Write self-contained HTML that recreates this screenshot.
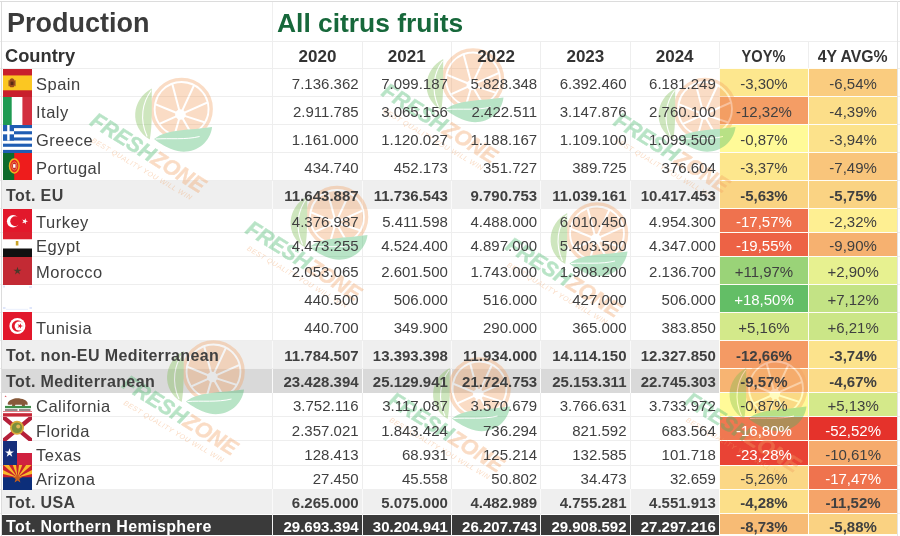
<!DOCTYPE html>
<html lang="en"><head><meta charset="utf-8"><title>Production - All citrus fruits</title>
<style>
html,body{margin:0;padding:0;background:#fff;}
body{width:900px;height:536px;overflow:hidden;position:relative;font-family:"Liberation Sans",sans-serif;color:#404040;}
#sheet{position:absolute;left:0;top:0;width:900px;height:536px;overflow:hidden;background:#fff;}
.hl,.vl,.bg,.c,.t,.flag{position:absolute;}
.hl{left:0;width:900px;height:1px;background:#eeeeee;}
.vl{width:1px;background:#eeeeee;}
.t{white-space:nowrap;line-height:20px;height:20px;font-size:15px;}
.num{text-align:right;}
.pct{text-align:center;}
.lab{font-size:16.5px;letter-spacing:.5px;}
.lab.b{font-size:16px;letter-spacing:.4px;}
.b{font-weight:bold;}
.w{color:#fff;}
.flag{left:3px;width:29px;overflow:hidden;}
.flag svg{display:block;width:100%;height:100%;}
#wm{position:absolute;left:0;top:0;width:900px;height:536px;pointer-events:none;}
</style></head><body><div id="sheet">

<div class="hl" style="top:1px;background:#dcdcdc"></div>
<div class="hl" style="top:41px"></div>
<div class="hl" style="top:68px"></div>
<div class="hl" style="top:96px"></div>
<div class="hl" style="top:124px"></div>
<div class="hl" style="top:152px"></div>
<div class="hl" style="top:180px"></div>
<div class="hl" style="top:208px"></div>
<div class="hl" style="top:232px"></div>
<div class="hl" style="top:256px"></div>
<div class="hl" style="top:284px"></div>
<div class="hl" style="top:312px"></div>
<div class="hl" style="top:340px"></div>
<div class="hl" style="top:368px"></div>
<div class="hl" style="top:392px"></div>
<div class="hl" style="top:416px"></div>
<div class="hl" style="top:440px"></div>
<div class="hl" style="top:465px"></div>
<div class="hl" style="top:489px"></div>
<div class="hl" style="top:513px"></div>
<div class="vl" style="left:1px;top:1px;height:535px;background:#dcdcdc"></div>
<div class="vl" style="left:272px;top:41px;height:495px"></div>
<div class="vl" style="left:362px;top:41px;height:495px"></div>
<div class="vl" style="left:451px;top:41px;height:495px"></div>
<div class="vl" style="left:540px;top:41px;height:495px"></div>
<div class="vl" style="left:630px;top:41px;height:495px"></div>
<div class="vl" style="left:719px;top:41px;height:495px"></div>
<div class="vl" style="left:808px;top:41px;height:495px"></div>
<div class="vl" style="left:272px;top:2px;height:39px;background:#efefef"></div>
<div class="vl" style="left:897px;top:1px;height:535px;background:#e4e4e4"></div>
<div class="bg" style="left:719px;top:68px;width:178px;height:468px;background:#fffdf6"></div>
<div class="bg" style="left:720px;top:69px;width:88px;height:27px;background:#fde78e"></div>
<div class="bg" style="left:809px;top:69px;width:88px;height:27px;background:#facc7f"></div>
<div class="bg" style="left:720px;top:97px;width:88px;height:27px;background:#f49d65"></div>
<div class="bg" style="left:809px;top:97px;width:88px;height:27px;background:#fcde89"></div>
<div class="bg" style="left:720px;top:125px;width:88px;height:27px;background:#fffa98"></div>
<div class="bg" style="left:809px;top:125px;width:88px;height:27px;background:#fce28b"></div>
<div class="bg" style="left:720px;top:153px;width:88px;height:27px;background:#fde78d"></div>
<div class="bg" style="left:809px;top:153px;width:88px;height:27px;background:#f9c57b"></div>
<div class="bg" style="left:2px;top:181px;width:717px;height:28px;background:#efefef"></div>
<div class="bg" style="left:272px;top:181px;width:1px;height:28px;background:#fafafa"></div>
<div class="bg" style="left:362px;top:181px;width:1px;height:28px;background:#fafafa"></div>
<div class="bg" style="left:451px;top:181px;width:1px;height:28px;background:#fafafa"></div>
<div class="bg" style="left:540px;top:181px;width:1px;height:28px;background:#fafafa"></div>
<div class="bg" style="left:630px;top:181px;width:1px;height:28px;background:#fafafa"></div>
<div class="bg" style="left:720px;top:181px;width:88px;height:27px;background:#fad483"></div>
<div class="bg" style="left:809px;top:181px;width:88px;height:27px;background:#fad383"></div>
<div class="bg" style="left:720px;top:209px;width:88px;height:23px;background:#ef724e"></div>
<div class="bg" style="left:809px;top:209px;width:88px;height:23px;background:#feef92"></div>
<div class="bg" style="left:720px;top:233px;width:88px;height:23px;background:#ed6245"></div>
<div class="bg" style="left:809px;top:233px;width:88px;height:23px;background:#f6b170"></div>
<div class="bg" style="left:720px;top:257px;width:88px;height:27px;background:#9ad378"></div>
<div class="bg" style="left:809px;top:257px;width:88px;height:27px;background:#e7f190"></div>
<div class="bg" style="left:720px;top:285px;width:88px;height:27px;background:#63be66"></div>
<div class="bg" style="left:809px;top:285px;width:88px;height:27px;background:#c3e385"></div>
<div class="bg" style="left:720px;top:313px;width:88px;height:27px;background:#d3e98a"></div>
<div class="bg" style="left:809px;top:313px;width:88px;height:27px;background:#cbe687"></div>
<div class="bg" style="left:2px;top:341px;width:717px;height:27px;background:#efefef"></div>
<div class="bg" style="left:272px;top:341px;width:1px;height:27px;background:#fafafa"></div>
<div class="bg" style="left:362px;top:341px;width:1px;height:27px;background:#fafafa"></div>
<div class="bg" style="left:451px;top:341px;width:1px;height:27px;background:#fafafa"></div>
<div class="bg" style="left:540px;top:341px;width:1px;height:27px;background:#fafafa"></div>
<div class="bg" style="left:630px;top:341px;width:1px;height:27px;background:#fafafa"></div>
<div class="bg" style="left:720px;top:341px;width:88px;height:27px;background:#f49a64"></div>
<div class="bg" style="left:809px;top:341px;width:88px;height:27px;background:#fce38c"></div>
<div class="bg" style="left:2px;top:369px;width:717px;height:24px;background:#d9d9d9"></div>
<div class="bg" style="left:272px;top:369px;width:1px;height:24px;background:#fafafa"></div>
<div class="bg" style="left:362px;top:369px;width:1px;height:24px;background:#fafafa"></div>
<div class="bg" style="left:451px;top:369px;width:1px;height:24px;background:#fafafa"></div>
<div class="bg" style="left:540px;top:369px;width:1px;height:24px;background:#fafafa"></div>
<div class="bg" style="left:630px;top:369px;width:1px;height:24px;background:#fafafa"></div>
<div class="bg" style="left:720px;top:369px;width:88px;height:23px;background:#f7b472"></div>
<div class="bg" style="left:809px;top:369px;width:88px;height:23px;background:#fbdc88"></div>
<div class="bg" style="left:720px;top:393px;width:88px;height:23px;background:#fffa98"></div>
<div class="bg" style="left:809px;top:393px;width:88px;height:23px;background:#d4e98a"></div>
<div class="bg" style="left:720px;top:417px;width:88px;height:23px;background:#ef7851"></div>
<div class="bg" style="left:809px;top:417px;width:88px;height:23px;background:#e5322b"></div>
<div class="bg" style="left:720px;top:441px;width:88px;height:24px;background:#e94335"></div>
<div class="bg" style="left:809px;top:441px;width:88px;height:24px;background:#f6ab6d"></div>
<div class="bg" style="left:720px;top:466px;width:88px;height:23px;background:#fbd785"></div>
<div class="bg" style="left:809px;top:466px;width:88px;height:23px;background:#ef734e"></div>
<div class="bg" style="left:2px;top:489px;width:717px;height:24px;background:#efefef"></div>
<div class="bg" style="left:272px;top:489px;width:1px;height:24px;background:#fafafa"></div>
<div class="bg" style="left:362px;top:489px;width:1px;height:24px;background:#fafafa"></div>
<div class="bg" style="left:451px;top:489px;width:1px;height:24px;background:#fafafa"></div>
<div class="bg" style="left:540px;top:489px;width:1px;height:24px;background:#fafafa"></div>
<div class="bg" style="left:630px;top:489px;width:1px;height:24px;background:#fafafa"></div>
<div class="bg" style="left:720px;top:490px;width:88px;height:23px;background:#fcdf89"></div>
<div class="bg" style="left:809px;top:490px;width:88px;height:23px;background:#f5a469"></div>
<div class="bg" style="left:2px;top:515px;width:717px;height:20px;background:#3a3a3a"></div>
<div class="bg" style="left:272px;top:515px;width:1px;height:20px;background:#f4f4f4"></div>
<div class="bg" style="left:362px;top:515px;width:1px;height:20px;background:#f4f4f4"></div>
<div class="bg" style="left:451px;top:515px;width:1px;height:20px;background:#f4f4f4"></div>
<div class="bg" style="left:540px;top:515px;width:1px;height:20px;background:#f4f4f4"></div>
<div class="bg" style="left:630px;top:515px;width:1px;height:20px;background:#f4f4f4"></div>
<div class="bg" style="left:720px;top:514px;width:88px;height:20px;background:#f7bb75"></div>
<div class="bg" style="left:809px;top:514px;width:88px;height:20px;background:#fad282"></div>
<div class="flag" style="top:69px;height:28px"><svg viewBox="0 0 29 28" preserveAspectRatio="none"><rect width="29" height="28" fill="#c8202c"/><rect y="6.44" width="29" height="14.84" fill="#fbc722"/><path d="M6.2 11.76 c.6-1.6 1.6-2.4 2.8-2.6 c1.200.2 2.200 1 2.800 2.600 c.8 1.600 .6 3.600-.2 5.200 l-1.200 1.400 l-3 0 l-1.200-1.400 c-.8-1.600-.8-3.600 0-5.200z" fill="#9a4a1c"/><rect x="7.6" y="12.6" width="2.9" height="3.4" fill="#5a2a14"/><rect x="5.2" y="11.2" width="1" height="6" fill="#b8862a"/><rect x="12" y="11.2" width="1" height="6" fill="#b8862a"/></svg></div>
<div class="flag" style="top:97px;height:28px"><svg viewBox="0 0 29 28" preserveAspectRatio="none"><rect width="29" height="28" fill="#fff"/><rect width="8.7" height="28" fill="#1f9a52"/><rect x="19.4" width="9.6" height="28" fill="#d2303f"/></svg></div>
<div class="flag" style="top:125px;height:28px"><svg viewBox="0 0 29 28" preserveAspectRatio="none"><rect width="29" height="28" fill="#fff"/><rect y="0.00" width="29" height="3.11" fill="#1f5db3"/><rect y="6.22" width="29" height="3.11" fill="#1f5db3"/><rect y="12.44" width="29" height="3.11" fill="#1f5db3"/><rect y="18.67" width="29" height="3.11" fill="#1f5db3"/><rect y="24.89" width="29" height="3.11" fill="#1f5db3"/><rect width="11" height="15.56" fill="#1f5db3"/><rect x="4.2" width="2.4" height="15.56" fill="#fff"/><rect y="6.22" width="11" height="3.11" fill="#fff"/></svg></div>
<div class="flag" style="top:153px;height:27px"><svg viewBox="0 0 29 27" preserveAspectRatio="none"><rect width="29" height="27" fill="#ee1c1c"/><rect width="11.2" height="27" fill="#0e6b2c"/><ellipse cx="11.3" cy="12.96" rx="4.8" ry="7" fill="#e8202a" stroke="#f2b01e" stroke-width="1.5"/><ellipse cx="11.3" cy="12.96" rx="2.6" ry="4" fill="#c8202c" stroke="#f2c84a" stroke-width=".6"/><rect x="10.1" y="11.16" width="2.4" height="3.6" fill="#fff"/></svg></div>
<div class="flag" style="top:209px;height:23px"><svg viewBox="0 0 29 23" preserveAspectRatio="none"><rect width="29" height="23" fill="#e2182b"/><circle cx="10.1" cy="12.3" r="6.2" fill="#fff"/><circle cx="12.3" cy="12.3" r="5" fill="#e2182b"/><polygon points="22.79,9.26 22.79,11.58 25.00,12.30 22.79,13.02 22.79,15.34 21.42,13.46 19.21,14.18 20.58,12.30 19.21,10.42 21.42,11.14" fill="#fff"/></svg></div>
<div class="flag" style="top:232px;height:25px"><svg viewBox="0 0 29 25" preserveAspectRatio="none"><rect width="29" height="25" fill="#fff"/><rect width="29" height="7.25" fill="#dc1f2e"/><rect y="16.5" width="29" height="8.5" fill="#111"/><rect x="12.8" y="9" width="2.6" height="4.5" fill="#c9a227"/></svg></div>
<div class="flag" style="top:257px;height:28px"><svg viewBox="0 0 29 28" preserveAspectRatio="none"><rect width="29" height="28" fill="#c32a34"/><polygon points="14.50,9.80 15.44,12.70 18.49,12.70 16.03,14.50 16.97,17.40 14.50,15.60 12.03,17.40 12.97,14.50 10.51,12.70 13.56,12.70" fill="#4a3a2a"/></svg></div>
<div class="flag" style="top:285px;height:27px"><svg viewBox="0 0 29 27" preserveAspectRatio="none"><rect width="29" height="27" fill="#fff"/><rect x="0" y="0.5" width="2" height="2" fill="#dfe6fb"/><rect x="26" y="1" width="3" height="2" fill="#e4eafc"/><rect x="0" y="22" width="2.5" height="2" fill="#dfe6fb"/><rect x="26.5" y="22" width="2.5" height="2" fill="#dfe6fb"/><rect x="3" y="23.8" width="22" height="1.2" fill="#eef2fd"/></svg></div>
<div class="flag" style="top:312px;height:28px"><svg viewBox="0 0 29 28" preserveAspectRatio="none"><rect width="29" height="28" fill="#e2182b"/><circle cx="14.4" cy="14" r="8" fill="#fff"/><circle cx="14.6" cy="14" r="5.8" fill="#e2182b"/><circle cx="16.2" cy="14" r="4.6" fill="#fff"/><polygon points="17.93,11.15 17.93,13.33 20.00,14.00 17.93,14.67 17.93,16.85 16.65,15.09 14.57,15.76 15.85,14.00 14.57,12.24 16.65,12.91" fill="#e2182b"/></svg></div>
<div class="flag" style="top:393px;height:24px"><svg viewBox="0 0 29 24" preserveAspectRatio="none"><rect width="29" height="24" fill="#fff"/><polygon points="2.60,2.20 2.87,3.03 3.74,3.03 3.04,3.54 3.31,4.37 2.60,3.86 1.89,4.37 2.16,3.54 1.46,3.03 2.33,3.03" fill="#d8505a"/><path d="M4.6 11.2 c.2-2.200 1.800-3.800 4.200-4.600 c2.600-1.400 6-1.600 9-.8 c2.600.2 4.800 1.200 6.200 3 c.8 1 .8 2.200 .4 3.200 l-2.200-.4 l-.6 1.800 l-2.600 0 l-.2-1.600 l-6.400 0 l-.6 1.600 l-2.800 0 l.2-2 c-1.800.6-3.600.6-4.600-.2z" fill="#87593a"/><rect x="2" y="12.9" width="26" height="2.300" fill="#3f8f4a"/><rect x="2" y="16.300" width="12.500" height="1.400" fill="#6a5a5a"/><rect x="16" y="16.300" width="11.500" height="1.400" fill="#6a5a5a"/><rect y="18.300" width="29" height=".7" fill="#d8505a"/><rect y="20.200" width="29" height="3.400" fill="#c62838"/></svg></div>
<div class="flag" style="top:417px;height:24px"><svg viewBox="0 0 29 24" preserveAspectRatio="none"><rect width="29" height="24" fill="#fff"/><path d="M0 0 L29 24 M29 0 L0 24" stroke="#b5203a" stroke-width="4.4"/><circle cx="14" cy="10.8" r="7" fill="#d9a83a"/><circle cx="14" cy="10.8" r="5.2" fill="#7a8f3a"/><circle cx="15.2" cy="9.6" r="2" fill="#e0b85a"/></svg></div>
<div class="flag" style="top:441px;height:24px"><svg viewBox="0 0 29 24" preserveAspectRatio="none"><rect width="29" height="24" fill="#fff"/><rect y="12" width="29" height="12" fill="#d0213f"/><rect width="14" height="24" fill="#162f7c"/><polygon points="6.50,7.30 7.56,10.55 10.97,10.55 8.21,12.55 9.26,15.80 6.50,13.80 3.74,15.80 4.79,12.55 2.03,10.55 5.44,10.55" fill="#fff"/></svg></div>
<div class="flag" style="top:465px;height:25px"><svg viewBox="0 0 29 25" preserveAspectRatio="none"><rect width="29" height="25" fill="#0c2e7a"/><rect width="29" height="12.5" fill="#c8202c"/><polygon points="14.5,12.50 -24.34,2.93 -20.92,-6.09" fill="#f8b92a"/><polygon points="14.5,12.50 -15.44,-14.02 -8.22,-20.42" fill="#f8b92a"/><polygon points="14.5,12.50 0.32,-24.90 9.68,-27.21" fill="#f8b92a"/><polygon points="14.5,12.50 19.32,-27.21 28.68,-24.90" fill="#f8b92a"/><polygon points="14.5,12.50 37.22,-20.42 44.44,-14.02" fill="#f8b92a"/><polygon points="14.5,12.50 49.92,-6.09 53.34,2.93" fill="#f8b92a"/><rect y="12.5" width="29" height="12.5" fill="#0c2e7a"/><polygon points="14.50,8.50 15.62,11.95 19.26,11.95 16.32,14.09 17.44,17.55 14.50,15.41 11.56,17.55 12.68,14.09 9.74,11.95 13.38,11.95" fill="#c9601c"/></svg></div>
<svg id="wm" viewBox="0 0 900 536" width="900" height="536"><g opacity="0.37"><g transform="translate(181.6 109)"><circle r="29" fill="#fff"/><circle r="29.6" fill="none" stroke="#f2a163" stroke-width="3.4"/><path d="M-1.6 0.2L-8.2 -24.7A26 26 0 0 1 11.2 -23.5L0.1 0.4ZM1.9 1.2L13.0 -22.5A26 26 0 0 1 25.0 -7.2L3.1 2.5ZM4.0 4.3L25.5 -5.3A26 26 0 0 1 22.9 12.3L4.1 6.2ZM3.4 8.1L21.9 14.0A26 26 0 0 1 10.5 23.8L2.3 9.5ZM0.5 10.5L8.6 24.5A26 26 0 0 1 -5.8 25.3L-1.7 10.8ZM-3.6 10.2L-7.8 24.8A26 26 0 0 1 -21.0 15.4L-5.5 8.5ZM-6.4 6.7L-22.1 13.7A26 26 0 0 1 -25.8 -3.4L-6.4 4.5ZM-5.6 2.6L-25.4 -5.4A26 26 0 0 1 -10.1 -23.9L-3.5 0.7Z" fill="#f2a163"/><path d="M-29.8 -20.5C-50 -10 -53 18 -31.8 30.5C-29 16 -30 -4 -29.8 -20.5Z" fill="#7aba50"/><path d="M-30.4 -18.5C-39 -7 -42.5 10 -34.5 27.5" fill="none" stroke="#fff" stroke-width="1.100"/><path d="M-27.5 30C-14 19.5 8 21.5 30.5 18C28.5 35 12 45.5 -4 42C-14 39.5 -22 34.5 -27.5 30Z" fill="#3fb566"/><path d="M-26 30C-12 29 4 31 18 27.500" fill="none" stroke="#fff" stroke-width="1"/><g transform="translate(-33.2 43.5) rotate(32)"><text x="0" y="7.7" text-anchor="middle" font-family="'Liberation Sans',sans-serif" font-weight="bold" font-style="italic" font-size="21.5" textLength="131" lengthAdjust="spacingAndGlyphs"><tspan fill="#3fb566" stroke="#3fb566" stroke-width=".5">FRESH</tspan><tspan fill="#f2a163" stroke="#f2a163" stroke-width=".5">ZONE</tspan></text></g><g transform="translate(-39.8 59.8) rotate(30.5)"><text x="0" y="2.5" text-anchor="middle" font-family="'Liberation Sans',sans-serif" font-style="italic" font-size="7" fill="#f2a163" textLength="115" lengthAdjust="spacing">BEST QUALITY YOU WILL WIN</text></g></g>
<g transform="translate(473 79.5)"><circle r="29" fill="#fff"/><circle r="29.6" fill="none" stroke="#f2a163" stroke-width="3.4"/><path d="M-1.6 0.2L-8.2 -24.7A26 26 0 0 1 11.2 -23.5L0.1 0.4ZM1.9 1.2L13.0 -22.5A26 26 0 0 1 25.0 -7.2L3.1 2.5ZM4.0 4.3L25.5 -5.3A26 26 0 0 1 22.9 12.3L4.1 6.2ZM3.4 8.1L21.9 14.0A26 26 0 0 1 10.5 23.8L2.3 9.5ZM0.5 10.5L8.6 24.5A26 26 0 0 1 -5.8 25.3L-1.7 10.8ZM-3.6 10.2L-7.8 24.8A26 26 0 0 1 -21.0 15.4L-5.5 8.5ZM-6.4 6.7L-22.1 13.7A26 26 0 0 1 -25.8 -3.4L-6.4 4.5ZM-5.6 2.6L-25.4 -5.4A26 26 0 0 1 -10.1 -23.9L-3.5 0.7Z" fill="#f2a163"/><path d="M-29.8 -20.5C-50 -10 -53 18 -31.8 30.5C-29 16 -30 -4 -29.8 -20.5Z" fill="#7aba50"/><path d="M-30.4 -18.5C-39 -7 -42.5 10 -34.5 27.5" fill="none" stroke="#fff" stroke-width="1.100"/><path d="M-27.5 30C-14 19.5 8 21.5 30.5 18C28.5 35 12 45.5 -4 42C-14 39.5 -22 34.5 -27.5 30Z" fill="#3fb566"/><path d="M-26 30C-12 29 4 31 18 27.500" fill="none" stroke="#fff" stroke-width="1"/><g transform="translate(-33.2 43.5) rotate(32)"><text x="0" y="7.7" text-anchor="middle" font-family="'Liberation Sans',sans-serif" font-weight="bold" font-style="italic" font-size="21.5" textLength="131" lengthAdjust="spacingAndGlyphs"><tspan fill="#3fb566" stroke="#3fb566" stroke-width=".5">FRESH</tspan><tspan fill="#f2a163" stroke="#f2a163" stroke-width=".5">ZONE</tspan></text></g><g transform="translate(-39.8 59.8) rotate(30.5)"><text x="0" y="2.5" text-anchor="middle" font-family="'Liberation Sans',sans-serif" font-style="italic" font-size="7" fill="#f2a163" textLength="115" lengthAdjust="spacing">BEST QUALITY YOU WILL WIN</text></g></g>
<g transform="translate(705 109)"><circle r="29" fill="#fff"/><circle r="29.6" fill="none" stroke="#f2a163" stroke-width="3.4"/><path d="M-1.6 0.2L-8.2 -24.7A26 26 0 0 1 11.2 -23.5L0.1 0.4ZM1.9 1.2L13.0 -22.5A26 26 0 0 1 25.0 -7.2L3.1 2.5ZM4.0 4.3L25.5 -5.3A26 26 0 0 1 22.9 12.3L4.1 6.2ZM3.4 8.1L21.9 14.0A26 26 0 0 1 10.5 23.8L2.3 9.5ZM0.5 10.5L8.6 24.5A26 26 0 0 1 -5.8 25.3L-1.7 10.8ZM-3.6 10.2L-7.8 24.8A26 26 0 0 1 -21.0 15.4L-5.5 8.5ZM-6.4 6.7L-22.1 13.7A26 26 0 0 1 -25.8 -3.4L-6.4 4.5ZM-5.6 2.6L-25.4 -5.4A26 26 0 0 1 -10.1 -23.9L-3.5 0.7Z" fill="#f2a163"/><path d="M-29.8 -20.5C-50 -10 -53 18 -31.8 30.5C-29 16 -30 -4 -29.8 -20.5Z" fill="#7aba50"/><path d="M-30.4 -18.5C-39 -7 -42.5 10 -34.5 27.5" fill="none" stroke="#fff" stroke-width="1.100"/><path d="M-27.5 30C-14 19.5 8 21.5 30.5 18C28.5 35 12 45.5 -4 42C-14 39.5 -22 34.5 -27.5 30Z" fill="#3fb566"/><path d="M-26 30C-12 29 4 31 18 27.500" fill="none" stroke="#fff" stroke-width="1"/><g transform="translate(-33.2 43.5) rotate(32)"><text x="0" y="7.7" text-anchor="middle" font-family="'Liberation Sans',sans-serif" font-weight="bold" font-style="italic" font-size="21.5" textLength="131" lengthAdjust="spacingAndGlyphs"><tspan fill="#3fb566" stroke="#3fb566" stroke-width=".5">FRESH</tspan><tspan fill="#f2a163" stroke="#f2a163" stroke-width=".5">ZONE</tspan></text></g><g transform="translate(-39.8 59.8) rotate(30.5)"><text x="0" y="2.5" text-anchor="middle" font-family="'Liberation Sans',sans-serif" font-style="italic" font-size="7" fill="#f2a163" textLength="115" lengthAdjust="spacing">BEST QUALITY YOU WILL WIN</text></g></g>
<g transform="translate(337 217)"><circle r="29" fill="#fff"/><circle r="29.6" fill="none" stroke="#f2a163" stroke-width="3.4"/><path d="M-1.6 0.2L-8.2 -24.7A26 26 0 0 1 11.2 -23.5L0.1 0.4ZM1.9 1.2L13.0 -22.5A26 26 0 0 1 25.0 -7.2L3.1 2.5ZM4.0 4.3L25.5 -5.3A26 26 0 0 1 22.9 12.3L4.1 6.2ZM3.4 8.1L21.9 14.0A26 26 0 0 1 10.5 23.8L2.3 9.5ZM0.5 10.5L8.6 24.5A26 26 0 0 1 -5.8 25.3L-1.7 10.8ZM-3.6 10.2L-7.8 24.8A26 26 0 0 1 -21.0 15.4L-5.5 8.5ZM-6.4 6.7L-22.1 13.7A26 26 0 0 1 -25.8 -3.4L-6.4 4.5ZM-5.6 2.6L-25.4 -5.4A26 26 0 0 1 -10.1 -23.9L-3.5 0.7Z" fill="#f2a163"/><path d="M-29.8 -20.5C-50 -10 -53 18 -31.8 30.5C-29 16 -30 -4 -29.8 -20.5Z" fill="#7aba50"/><path d="M-30.4 -18.5C-39 -7 -42.5 10 -34.5 27.5" fill="none" stroke="#fff" stroke-width="1.100"/><path d="M-27.5 30C-14 19.5 8 21.5 30.5 18C28.5 35 12 45.5 -4 42C-14 39.5 -22 34.5 -27.5 30Z" fill="#3fb566"/><path d="M-26 30C-12 29 4 31 18 27.500" fill="none" stroke="#fff" stroke-width="1"/><g transform="translate(-33.2 43.5) rotate(32)"><text x="0" y="7.7" text-anchor="middle" font-family="'Liberation Sans',sans-serif" font-weight="bold" font-style="italic" font-size="21.5" textLength="131" lengthAdjust="spacingAndGlyphs"><tspan fill="#3fb566" stroke="#3fb566" stroke-width=".5">FRESH</tspan><tspan fill="#f2a163" stroke="#f2a163" stroke-width=".5">ZONE</tspan></text></g><g transform="translate(-39.8 59.8) rotate(30.5)"><text x="0" y="2.5" text-anchor="middle" font-family="'Liberation Sans',sans-serif" font-style="italic" font-size="7" fill="#f2a163" textLength="115" lengthAdjust="spacing">BEST QUALITY YOU WILL WIN</text></g></g>
<g transform="translate(597 233.5)"><circle r="29" fill="#fff"/><circle r="29.6" fill="none" stroke="#f2a163" stroke-width="3.4"/><path d="M-1.6 0.2L-8.2 -24.7A26 26 0 0 1 11.2 -23.5L0.1 0.4ZM1.9 1.2L13.0 -22.5A26 26 0 0 1 25.0 -7.2L3.1 2.5ZM4.0 4.3L25.5 -5.3A26 26 0 0 1 22.9 12.3L4.1 6.2ZM3.4 8.1L21.9 14.0A26 26 0 0 1 10.5 23.8L2.3 9.5ZM0.5 10.5L8.6 24.5A26 26 0 0 1 -5.8 25.3L-1.7 10.8ZM-3.6 10.2L-7.8 24.8A26 26 0 0 1 -21.0 15.4L-5.5 8.5ZM-6.4 6.7L-22.1 13.7A26 26 0 0 1 -25.8 -3.4L-6.4 4.5ZM-5.6 2.6L-25.4 -5.4A26 26 0 0 1 -10.1 -23.9L-3.5 0.7Z" fill="#f2a163"/><path d="M-29.8 -20.5C-50 -10 -53 18 -31.8 30.5C-29 16 -30 -4 -29.8 -20.5Z" fill="#7aba50"/><path d="M-30.4 -18.5C-39 -7 -42.5 10 -34.5 27.5" fill="none" stroke="#fff" stroke-width="1.100"/><path d="M-27.5 30C-14 19.5 8 21.5 30.5 18C28.5 35 12 45.5 -4 42C-14 39.5 -22 34.5 -27.5 30Z" fill="#3fb566"/><path d="M-26 30C-12 29 4 31 18 27.500" fill="none" stroke="#fff" stroke-width="1"/><g transform="translate(-33.2 43.5) rotate(32)"><text x="0" y="7.7" text-anchor="middle" font-family="'Liberation Sans',sans-serif" font-weight="bold" font-style="italic" font-size="21.5" textLength="131" lengthAdjust="spacingAndGlyphs"><tspan fill="#3fb566" stroke="#3fb566" stroke-width=".5">FRESH</tspan><tspan fill="#f2a163" stroke="#f2a163" stroke-width=".5">ZONE</tspan></text></g><g transform="translate(-39.8 59.8) rotate(30.5)"><text x="0" y="2.5" text-anchor="middle" font-family="'Liberation Sans',sans-serif" font-style="italic" font-size="7" fill="#f2a163" textLength="115" lengthAdjust="spacing">BEST QUALITY YOU WILL WIN</text></g></g>
<g transform="translate(213.5 371.5)"><circle r="29" fill="#fff"/><circle r="29.6" fill="none" stroke="#f2a163" stroke-width="3.4"/><path d="M-1.6 0.2L-8.2 -24.7A26 26 0 0 1 11.2 -23.5L0.1 0.4ZM1.9 1.2L13.0 -22.5A26 26 0 0 1 25.0 -7.2L3.1 2.5ZM4.0 4.3L25.5 -5.3A26 26 0 0 1 22.9 12.3L4.1 6.2ZM3.4 8.1L21.9 14.0A26 26 0 0 1 10.5 23.8L2.3 9.5ZM0.5 10.5L8.6 24.5A26 26 0 0 1 -5.8 25.3L-1.7 10.8ZM-3.6 10.2L-7.8 24.8A26 26 0 0 1 -21.0 15.4L-5.5 8.5ZM-6.4 6.7L-22.1 13.7A26 26 0 0 1 -25.8 -3.4L-6.4 4.5ZM-5.6 2.6L-25.4 -5.4A26 26 0 0 1 -10.1 -23.9L-3.5 0.7Z" fill="#f2a163"/><path d="M-29.8 -20.5C-50 -10 -53 18 -31.8 30.5C-29 16 -30 -4 -29.8 -20.5Z" fill="#7aba50"/><path d="M-30.4 -18.5C-39 -7 -42.5 10 -34.5 27.5" fill="none" stroke="#fff" stroke-width="1.100"/><path d="M-27.5 30C-14 19.5 8 21.5 30.5 18C28.5 35 12 45.5 -4 42C-14 39.5 -22 34.5 -27.5 30Z" fill="#3fb566"/><path d="M-26 30C-12 29 4 31 18 27.500" fill="none" stroke="#fff" stroke-width="1"/><g transform="translate(-33.2 43.5) rotate(32)"><text x="0" y="7.7" text-anchor="middle" font-family="'Liberation Sans',sans-serif" font-weight="bold" font-style="italic" font-size="21.5" textLength="131" lengthAdjust="spacingAndGlyphs"><tspan fill="#3fb566" stroke="#3fb566" stroke-width=".5">FRESH</tspan><tspan fill="#f2a163" stroke="#f2a163" stroke-width=".5">ZONE</tspan></text></g><g transform="translate(-39.8 59.8) rotate(30.5)"><text x="0" y="2.5" text-anchor="middle" font-family="'Liberation Sans',sans-serif" font-style="italic" font-size="7" fill="#f2a163" textLength="115" lengthAdjust="spacing">BEST QUALITY YOU WILL WIN</text></g></g>
<g transform="translate(479.5 388.5)"><circle r="29" fill="#fff"/><circle r="29.6" fill="none" stroke="#f2a163" stroke-width="3.4"/><path d="M-1.6 0.2L-8.2 -24.7A26 26 0 0 1 11.2 -23.5L0.1 0.4ZM1.9 1.2L13.0 -22.5A26 26 0 0 1 25.0 -7.2L3.1 2.5ZM4.0 4.3L25.5 -5.3A26 26 0 0 1 22.9 12.3L4.1 6.2ZM3.4 8.1L21.9 14.0A26 26 0 0 1 10.5 23.8L2.3 9.5ZM0.5 10.5L8.6 24.5A26 26 0 0 1 -5.8 25.3L-1.7 10.8ZM-3.6 10.2L-7.8 24.8A26 26 0 0 1 -21.0 15.4L-5.5 8.5ZM-6.4 6.7L-22.1 13.7A26 26 0 0 1 -25.8 -3.4L-6.4 4.5ZM-5.6 2.6L-25.4 -5.4A26 26 0 0 1 -10.1 -23.9L-3.5 0.7Z" fill="#f2a163"/><path d="M-29.8 -20.5C-50 -10 -53 18 -31.8 30.5C-29 16 -30 -4 -29.8 -20.5Z" fill="#7aba50"/><path d="M-30.4 -18.5C-39 -7 -42.5 10 -34.5 27.5" fill="none" stroke="#fff" stroke-width="1.100"/><path d="M-27.5 30C-14 19.5 8 21.5 30.5 18C28.5 35 12 45.5 -4 42C-14 39.5 -22 34.5 -27.5 30Z" fill="#3fb566"/><path d="M-26 30C-12 29 4 31 18 27.500" fill="none" stroke="#fff" stroke-width="1"/><g transform="translate(-33.2 43.5) rotate(32)"><text x="0" y="7.7" text-anchor="middle" font-family="'Liberation Sans',sans-serif" font-weight="bold" font-style="italic" font-size="21.5" textLength="131" lengthAdjust="spacingAndGlyphs"><tspan fill="#3fb566" stroke="#3fb566" stroke-width=".5">FRESH</tspan><tspan fill="#f2a163" stroke="#f2a163" stroke-width=".5">ZONE</tspan></text></g><g transform="translate(-39.8 59.8) rotate(30.5)"><text x="0" y="2.5" text-anchor="middle" font-family="'Liberation Sans',sans-serif" font-style="italic" font-size="7" fill="#f2a163" textLength="115" lengthAdjust="spacing">BEST QUALITY YOU WILL WIN</text></g></g>
<g transform="translate(776 388.5)"><circle r="29" fill="#fff"/><circle r="29.6" fill="none" stroke="#f2a163" stroke-width="3.4"/><path d="M-1.6 0.2L-8.2 -24.7A26 26 0 0 1 11.2 -23.5L0.1 0.4ZM1.9 1.2L13.0 -22.5A26 26 0 0 1 25.0 -7.2L3.1 2.5ZM4.0 4.3L25.5 -5.3A26 26 0 0 1 22.9 12.3L4.1 6.2ZM3.4 8.1L21.9 14.0A26 26 0 0 1 10.5 23.8L2.3 9.5ZM0.5 10.5L8.6 24.5A26 26 0 0 1 -5.8 25.3L-1.7 10.8ZM-3.6 10.2L-7.8 24.8A26 26 0 0 1 -21.0 15.4L-5.5 8.5ZM-6.4 6.7L-22.1 13.7A26 26 0 0 1 -25.8 -3.4L-6.4 4.5ZM-5.6 2.6L-25.4 -5.4A26 26 0 0 1 -10.1 -23.9L-3.5 0.7Z" fill="#f2a163"/><path d="M-29.8 -20.5C-50 -10 -53 18 -31.8 30.5C-29 16 -30 -4 -29.8 -20.5Z" fill="#7aba50"/><path d="M-30.4 -18.5C-39 -7 -42.5 10 -34.5 27.5" fill="none" stroke="#fff" stroke-width="1.100"/><path d="M-27.5 30C-14 19.5 8 21.5 30.5 18C28.5 35 12 45.5 -4 42C-14 39.5 -22 34.5 -27.5 30Z" fill="#3fb566"/><path d="M-26 30C-12 29 4 31 18 27.500" fill="none" stroke="#fff" stroke-width="1"/><g transform="translate(-33.2 43.5) rotate(32)"><text x="0" y="7.7" text-anchor="middle" font-family="'Liberation Sans',sans-serif" font-weight="bold" font-style="italic" font-size="21.5" textLength="131" lengthAdjust="spacingAndGlyphs"><tspan fill="#3fb566" stroke="#3fb566" stroke-width=".5">FRESH</tspan><tspan fill="#f2a163" stroke="#f2a163" stroke-width=".5">ZONE</tspan></text></g><g transform="translate(-39.8 59.8) rotate(30.5)"><text x="0" y="2.5" text-anchor="middle" font-family="'Liberation Sans',sans-serif" font-style="italic" font-size="7" fill="#f2a163" textLength="115" lengthAdjust="spacing">BEST QUALITY YOU WILL WIN</text></g></g>
</g></svg>
<div class="t b" style="left:7px;top:7px;font-size:27px;line-height:32px;height:32px;color:#3b3b3b">Production</div>
<div class="t b" style="left:277px;top:7px;font-size:26.4px;line-height:32px;height:32px;color:#17683b">All citrus fruits</div>
<div class="t b" style="left:5px;top:46.0px;font-size:18.3px;color:#333">Country</div>
<div class="t b pct" style="left:272.8px;width:89.3px;top:47.0px;font-size:17px;color:#333">2020</div>
<div class="t b pct" style="left:362.1px;width:89.3px;top:47.0px;font-size:17px;color:#333">2021</div>
<div class="t b pct" style="left:451.4px;width:89.3px;top:47.0px;font-size:17px;color:#333">2022</div>
<div class="t b pct" style="left:540.7px;width:89.3px;top:47.0px;font-size:17px;color:#333">2023</div>
<div class="t b pct" style="left:630.0px;width:89.3px;top:47.0px;font-size:17px;color:#333">2024</div>
<div class="t b pct" style="left:719.3px;width:89.3px;top:47.0px;font-size:17px;color:#333"><span style="display:inline-block;transform:scaleX(0.86)">YOY%</span></div>
<div class="t b pct" style="left:808.6px;width:89.0px;top:47.0px;font-size:17px;color:#333"><span style="display:inline-block;transform:scaleX(0.93)">4Y AVG%</span></div>
<div class="t lab" style="left:36px;top:74.0px">Spain</div>
<div class="t num" style="left:272.8px;width:85.8px;top:74.0px">7.136.362</div>
<div class="t num" style="left:362.1px;width:85.8px;top:74.0px">7.099.187</div>
<div class="t num" style="left:451.4px;width:85.8px;top:74.0px">5.828.348</div>
<div class="t num" style="left:540.7px;width:85.8px;top:74.0px">6.392.460</div>
<div class="t num" style="left:630.0px;width:85.8px;top:74.0px">6.181.249</div>
<div class="t pct" style="left:719.3px;width:89.3px;top:74.0px">-3,30%</div>
<div class="t pct" style="left:808.6px;width:89.0px;top:74.0px">-6,54%</div>
<div class="t lab" style="left:36px;top:102.0px">Italy</div>
<div class="t num" style="left:272.8px;width:85.8px;top:102.0px">2.911.785</div>
<div class="t num" style="left:362.1px;width:85.8px;top:102.0px">3.065.156</div>
<div class="t num" style="left:451.4px;width:85.8px;top:102.0px">2.422.511</div>
<div class="t num" style="left:540.7px;width:85.8px;top:102.0px">3.147.876</div>
<div class="t num" style="left:630.0px;width:85.8px;top:102.0px">2.760.100</div>
<div class="t pct" style="left:719.3px;width:89.3px;top:102.0px">-12,32%</div>
<div class="t pct" style="left:808.6px;width:89.0px;top:102.0px">-4,39%</div>
<div class="t lab" style="left:36px;top:130.0px">Greece</div>
<div class="t num" style="left:272.8px;width:85.8px;top:130.0px">1.161.000</div>
<div class="t num" style="left:362.1px;width:85.8px;top:130.0px">1.120.027</div>
<div class="t num" style="left:451.4px;width:85.8px;top:130.0px">1.188.167</div>
<div class="t num" style="left:540.7px;width:85.8px;top:130.0px">1.109.100</div>
<div class="t num" style="left:630.0px;width:85.8px;top:130.0px">1.099.500</div>
<div class="t pct" style="left:719.3px;width:89.3px;top:130.0px">-0,87%</div>
<div class="t pct" style="left:808.6px;width:89.0px;top:130.0px">-3,94%</div>
<div class="t lab" style="left:36px;top:158.0px">Portugal</div>
<div class="t num" style="left:272.8px;width:85.8px;top:158.0px">434.740</div>
<div class="t num" style="left:362.1px;width:85.8px;top:158.0px">452.173</div>
<div class="t num" style="left:451.4px;width:85.8px;top:158.0px">351.727</div>
<div class="t num" style="left:540.7px;width:85.8px;top:158.0px">389.725</div>
<div class="t num" style="left:630.0px;width:85.8px;top:158.0px">376.604</div>
<div class="t pct" style="left:719.3px;width:89.3px;top:158.0px">-3,37%</div>
<div class="t pct" style="left:808.6px;width:89.0px;top:158.0px">-7,49%</div>
<div class="t lab b" style="left:6px;top:186.0px">Tot. EU</div>
<div class="t num b" style="left:272.8px;width:85.8px;top:186.0px">11.643.887</div>
<div class="t num b" style="left:362.1px;width:85.8px;top:186.0px">11.736.543</div>
<div class="t num b" style="left:451.4px;width:85.8px;top:186.0px">9.790.753</div>
<div class="t num b" style="left:540.7px;width:85.8px;top:186.0px">11.039.161</div>
<div class="t num b" style="left:630.0px;width:85.8px;top:186.0px">10.417.453</div>
<div class="t pct b" style="left:719.3px;width:89.3px;top:186.0px">-5,63%</div>
<div class="t pct b" style="left:808.6px;width:89.0px;top:186.0px">-5,75%</div>
<div class="t lab" style="left:36px;top:212.0px">Turkey</div>
<div class="t num" style="left:272.8px;width:85.8px;top:212.0px">4.376.987</div>
<div class="t num" style="left:362.1px;width:85.8px;top:212.0px">5.411.598</div>
<div class="t num" style="left:451.4px;width:85.8px;top:212.0px">4.488.000</div>
<div class="t num" style="left:540.7px;width:85.8px;top:212.0px">6.010.450</div>
<div class="t num" style="left:630.0px;width:85.8px;top:212.0px">4.954.300</div>
<div class="t pct w" style="left:719.3px;width:89.3px;top:212.0px">-17,57%</div>
<div class="t pct" style="left:808.6px;width:89.0px;top:212.0px">-2,32%</div>
<div class="t lab" style="left:36px;top:236.0px">Egypt</div>
<div class="t num" style="left:272.8px;width:85.8px;top:236.0px">4.473.255</div>
<div class="t num" style="left:362.1px;width:85.8px;top:236.0px">4.524.400</div>
<div class="t num" style="left:451.4px;width:85.8px;top:236.0px">4.897.000</div>
<div class="t num" style="left:540.7px;width:85.8px;top:236.0px">5.403.500</div>
<div class="t num" style="left:630.0px;width:85.8px;top:236.0px">4.347.000</div>
<div class="t pct w" style="left:719.3px;width:89.3px;top:236.0px">-19,55%</div>
<div class="t pct" style="left:808.6px;width:89.0px;top:236.0px">-9,90%</div>
<div class="t lab" style="left:36px;top:262.0px">Morocco</div>
<div class="t num" style="left:272.8px;width:85.8px;top:262.0px">2.053.065</div>
<div class="t num" style="left:362.1px;width:85.8px;top:262.0px">2.601.500</div>
<div class="t num" style="left:451.4px;width:85.8px;top:262.0px">1.743.000</div>
<div class="t num" style="left:540.7px;width:85.8px;top:262.0px">1.908.200</div>
<div class="t num" style="left:630.0px;width:85.8px;top:262.0px">2.136.700</div>
<div class="t pct" style="left:719.3px;width:89.3px;top:262.0px">+11,97%</div>
<div class="t pct" style="left:808.6px;width:89.0px;top:262.0px">+2,90%</div>
<div class="t num" style="left:272.8px;width:85.8px;top:290.0px">440.500</div>
<div class="t num" style="left:362.1px;width:85.8px;top:290.0px">506.000</div>
<div class="t num" style="left:451.4px;width:85.8px;top:290.0px">516.000</div>
<div class="t num" style="left:540.7px;width:85.8px;top:290.0px">427.000</div>
<div class="t num" style="left:630.0px;width:85.8px;top:290.0px">506.000</div>
<div class="t pct w" style="left:719.3px;width:89.3px;top:290.0px">+18,50%</div>
<div class="t pct" style="left:808.6px;width:89.0px;top:290.0px">+7,12%</div>
<div class="t lab" style="left:36px;top:318.0px">Tunisia</div>
<div class="t num" style="left:272.8px;width:85.8px;top:318.0px">440.700</div>
<div class="t num" style="left:362.1px;width:85.8px;top:318.0px">349.900</div>
<div class="t num" style="left:451.4px;width:85.8px;top:318.0px">290.000</div>
<div class="t num" style="left:540.7px;width:85.8px;top:318.0px">365.000</div>
<div class="t num" style="left:630.0px;width:85.8px;top:318.0px">383.850</div>
<div class="t pct" style="left:719.3px;width:89.3px;top:318.0px">+5,16%</div>
<div class="t pct" style="left:808.6px;width:89.0px;top:318.0px">+6,21%</div>
<div class="t lab b" style="left:6px;top:346.0px">Tot. non-EU Mediterranean</div>
<div class="t num b" style="left:272.8px;width:85.8px;top:346.0px">11.784.507</div>
<div class="t num b" style="left:362.1px;width:85.8px;top:346.0px">13.393.398</div>
<div class="t num b" style="left:451.4px;width:85.8px;top:346.0px">11.934.000</div>
<div class="t num b" style="left:540.7px;width:85.8px;top:346.0px">14.114.150</div>
<div class="t num b" style="left:630.0px;width:85.8px;top:346.0px">12.327.850</div>
<div class="t pct b" style="left:719.3px;width:89.3px;top:346.0px">-12,66%</div>
<div class="t pct b" style="left:808.6px;width:89.0px;top:346.0px">-3,74%</div>
<div class="t lab b" style="left:6px;top:372.0px">Tot. Mediterranean</div>
<div class="t num b" style="left:272.8px;width:85.8px;top:372.0px">23.428.394</div>
<div class="t num b" style="left:362.1px;width:85.8px;top:372.0px">25.129.941</div>
<div class="t num b" style="left:451.4px;width:85.8px;top:372.0px">21.724.753</div>
<div class="t num b" style="left:540.7px;width:85.8px;top:372.0px">25.153.311</div>
<div class="t num b" style="left:630.0px;width:85.8px;top:372.0px">22.745.303</div>
<div class="t pct b" style="left:719.3px;width:89.3px;top:372.0px">-9,57%</div>
<div class="t pct b" style="left:808.6px;width:89.0px;top:372.0px">-4,67%</div>
<div class="t lab" style="left:36px;top:396.0px">California</div>
<div class="t num" style="left:272.8px;width:85.8px;top:396.0px">3.752.116</div>
<div class="t num" style="left:362.1px;width:85.8px;top:396.0px">3.117.087</div>
<div class="t num" style="left:451.4px;width:85.8px;top:396.0px">3.570.679</div>
<div class="t num" style="left:540.7px;width:85.8px;top:396.0px">3.766.631</div>
<div class="t num" style="left:630.0px;width:85.8px;top:396.0px">3.733.972</div>
<div class="t pct" style="left:719.3px;width:89.3px;top:396.0px">-0,87%</div>
<div class="t pct" style="left:808.6px;width:89.0px;top:396.0px">+5,13%</div>
<div class="t lab" style="left:36px;top:421.0px">Florida</div>
<div class="t num" style="left:272.8px;width:85.8px;top:421.0px">2.357.021</div>
<div class="t num" style="left:362.1px;width:85.8px;top:421.0px">1.843.424</div>
<div class="t num" style="left:451.4px;width:85.8px;top:421.0px">736.294</div>
<div class="t num" style="left:540.7px;width:85.8px;top:421.0px">821.592</div>
<div class="t num" style="left:630.0px;width:85.8px;top:421.0px">683.564</div>
<div class="t pct w" style="left:719.3px;width:89.3px;top:421.0px">-16,80%</div>
<div class="t pct w" style="left:808.6px;width:89.0px;top:421.0px">-52,52%</div>
<div class="t lab" style="left:36px;top:445.0px">Texas</div>
<div class="t num" style="left:272.8px;width:85.8px;top:445.0px">128.413</div>
<div class="t num" style="left:362.1px;width:85.8px;top:445.0px">68.931</div>
<div class="t num" style="left:451.4px;width:85.8px;top:445.0px">125.214</div>
<div class="t num" style="left:540.7px;width:85.8px;top:445.0px">132.585</div>
<div class="t num" style="left:630.0px;width:85.8px;top:445.0px">101.718</div>
<div class="t pct w" style="left:719.3px;width:89.3px;top:445.0px">-23,28%</div>
<div class="t pct" style="left:808.6px;width:89.0px;top:445.0px">-10,61%</div>
<div class="t lab" style="left:36px;top:469.0px">Arizona</div>
<div class="t num" style="left:272.8px;width:85.8px;top:469.0px">27.450</div>
<div class="t num" style="left:362.1px;width:85.8px;top:469.0px">45.558</div>
<div class="t num" style="left:451.4px;width:85.8px;top:469.0px">50.802</div>
<div class="t num" style="left:540.7px;width:85.8px;top:469.0px">34.473</div>
<div class="t num" style="left:630.0px;width:85.8px;top:469.0px">32.659</div>
<div class="t pct" style="left:719.3px;width:89.3px;top:469.0px">-5,26%</div>
<div class="t pct w" style="left:808.6px;width:89.0px;top:469.0px">-17,47%</div>
<div class="t lab b" style="left:6px;top:493.0px">Tot. USA</div>
<div class="t num b" style="left:272.8px;width:85.8px;top:493.0px">6.265.000</div>
<div class="t num b" style="left:362.1px;width:85.8px;top:493.0px">5.075.000</div>
<div class="t num b" style="left:451.4px;width:85.8px;top:493.0px">4.482.989</div>
<div class="t num b" style="left:540.7px;width:85.8px;top:493.0px">4.755.281</div>
<div class="t num b" style="left:630.0px;width:85.8px;top:493.0px">4.551.913</div>
<div class="t pct b" style="left:719.3px;width:89.3px;top:493.0px">-4,28%</div>
<div class="t pct b" style="left:808.6px;width:89.0px;top:493.0px">-11,52%</div>
<div class="t lab b w" style="left:6px;top:517.0px">Tot. Northern Hemisphere</div>
<div class="t num b w" style="left:272.8px;width:85.8px;top:517.0px">29.693.394</div>
<div class="t num b w" style="left:362.1px;width:85.8px;top:517.0px">30.204.941</div>
<div class="t num b w" style="left:451.4px;width:85.8px;top:517.0px">26.207.743</div>
<div class="t num b w" style="left:540.7px;width:85.8px;top:517.0px">29.908.592</div>
<div class="t num b w" style="left:630.0px;width:85.8px;top:517.0px">27.297.216</div>
<div class="t pct b" style="left:719.3px;width:89.3px;top:517.0px">-8,73%</div>
<div class="t pct b" style="left:808.6px;width:89.0px;top:517.0px">-5,88%</div>
</div></body></html>
